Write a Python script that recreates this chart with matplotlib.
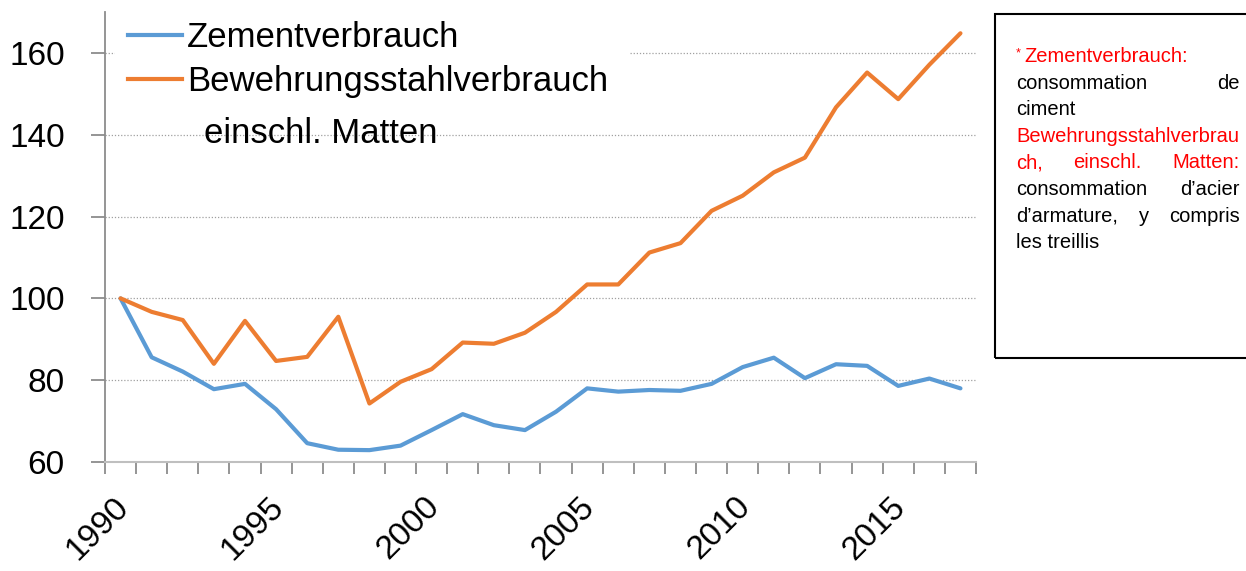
import matplotlib
matplotlib.use('Agg')
import matplotlib.pyplot as plt
from matplotlib.patches import Rectangle
from matplotlib.lines import Line2D
from matplotlib.transforms import ScaledTranslation
import numpy as np

# ---------------- data ----------------
years = [str(y) for y in range(1990, 2018)]
zement = [100, 85.6, 82.1, 77.8, 79.1, 72.9, 64.6, 63.0, 62.9, 64.0,
          67.8, 71.7, 69.0, 67.8, 72.3, 78.0, 77.2, 77.6, 77.4, 79.1,
          83.2, 85.5, 80.5, 83.9, 83.5, 78.6, 80.4, 78.0]
stahl = [100, 96.7, 94.7, 84.0, 94.5, 84.7, 85.7, 95.5, 74.3, 79.6,
         82.7, 89.2, 88.9, 91.6, 96.7, 103.4, 103.4, 111.2, 113.5, 121.4,
         125.1, 130.8, 134.4, 146.7, 155.2, 148.7, 157.1, 164.8]
label_years = ["1990", "1995", "2000", "2005", "2010", "2015"]
y_ticks = [60, 80, 100, 120, 140, 160]
series_names = ["Zementverbrauch", "Bewehrungsstahlverbrauch"]
legend_extra = "einschl. Matten"
note_lines = [
    (["Zementverbrauch:"], "red", False),
    (["consommation", "de"], "black", True),
    (["ciment"], "black", False),
    (["Bewehrungsstahlverbrau"], "red", False),
    (["ch,", "einschl.", "Matten:"], "red", True),
    (["consommation", "d\u2019acier"], "black", True),
    (["d\u2019armature,", "y", "compris"], "black", True),
    (["les treillis"], "black", False),
]

BLUE = "#5B9BD5"
ORANGE = "#ED7D31"

plt.rcParams['font.family'] = ['Liberation Sans', 'DejaVu Sans']

W, H = 1246, 571
fig = plt.figure(figsize=(W / 100, H / 100), dpi=100)


def fx(px):
    return px / W


def fy(py):
    return 1 - py / H


ax = fig.add_axes([fx(105), fy(462), fx(976) - fx(105), fy(12) - fy(462)])
xs = np.arange(len(years))
ax.plot(xs, zement, color=BLUE, lw=3.0, solid_capstyle='round', zorder=3)
ax.plot(xs, stahl, color=ORANGE, lw=3.0, solid_capstyle='round', zorder=3)

ax.set_ylim(60, 170)
ax.set_xlim(-0.5, len(years) - 0.5)
ax.set_yticks(y_ticks)
ax.set_yticklabels([str(v) for v in y_ticks], fontsize=24)
ax.tick_params(axis='y', length=10, width=1.3, color='#8c8c8c', pad=19)

ax.yaxis.grid(True, linestyle=(0, (1, 1.5)), color='#a0a0a0', lw=0.9)
ax.set_axisbelow(True)

# category boundaries as major ticks, labels at category centers
ax.set_xticks(np.arange(-0.5, len(years), 1))
ax.set_xticklabels([])
ax.tick_params(axis='x', which='major', length=8.6, width=1.3, color='#8c8c8c')
lab_pos = [years.index(y) for y in label_years]
ax.set_xticks(lab_pos, minor=True)
ax.set_xticklabels(label_years, minor=True, fontsize=24)
ax.tick_params(axis='x', which='minor', length=0, pad=21)
for lbl in ax.get_xticklabels(minor=True):
    lbl.set_rotation(45)
    lbl.set_ha('right')
    lbl.set_va('top')
    lbl.set_rotation_mode('anchor')
    lbl.set_transform(lbl.get_transform() + ScaledTranslation(-8 / 100, 0, fig.dpi_scale_trans))

for s in ['top', 'right']:
    ax.spines[s].set_visible(False)
ax.spines['left'].set_color('#8c8c8c')
ax.spines['left'].set_linewidth(1.3)
ax.spines['bottom'].set_color('#bfbfbf')
ax.spines['bottom'].set_linewidth(1.5)

# legend background (hides gridline behind legend)
ax.add_patch(Rectangle((0.012, 0.78), 0.59, 0.22, transform=ax.transAxes,
                       facecolor='white', edgecolor='none', zorder=1))

handles = [Line2D([], [], color=BLUE, lw=3.0), Line2D([], [], color=ORANGE, lw=3.0)]
ax.legend(handles, series_names, loc='upper left',
          bbox_to_anchor=(fx(128), fy(21)), bbox_transform=fig.transFigure,
          frameon=False, fontsize=25, handlelength=1.56, handletextpad=0.14,
          labelspacing=0.32, borderpad=0, borderaxespad=0)
fig.text(fx(204), fy(143), legend_extra, fontsize=25, va='baseline', ha='left')

# ---------------- note box ----------------
fig.add_artist(Rectangle((fx(995), fy(358)), fx(1262) - fx(995), fy(14) - fy(358),
                         transform=fig.transFigure, fill=False, edgecolor='black', lw=1.5))

renderer = fig.canvas.get_renderer()
NOTE_FS = 14.5
x0, x1 = 1016, 1240
base0, step = 62, 26.6
fig.text(fx(1016), fy(base0 - 6), "*", fontsize=9, color='red', va='baseline', ha='left')
for i, (words, col, justify) in enumerate(note_lines):
    yb = base0 + step * i
    start = 1024 if i == 0 else x0
    if not justify:
        fig.text(fx(start), fy(yb), words[0], fontsize=NOTE_FS, color=col,
                 va='baseline', ha='left')
        continue
    texts = [fig.text(0, fy(yb), w, fontsize=NOTE_FS, color=col, va='baseline', ha='left')
             for w in words]
    widths = [t.get_window_extent(renderer).width for t in texts]
    gap = (x1 - start - sum(widths)) / (len(words) - 1)
    cur = start
    for t, wdt in zip(texts, widths):
        t.set_x(fx(cur))
        cur += wdt + gap

fig.savefig('out.png', dpi=100)
